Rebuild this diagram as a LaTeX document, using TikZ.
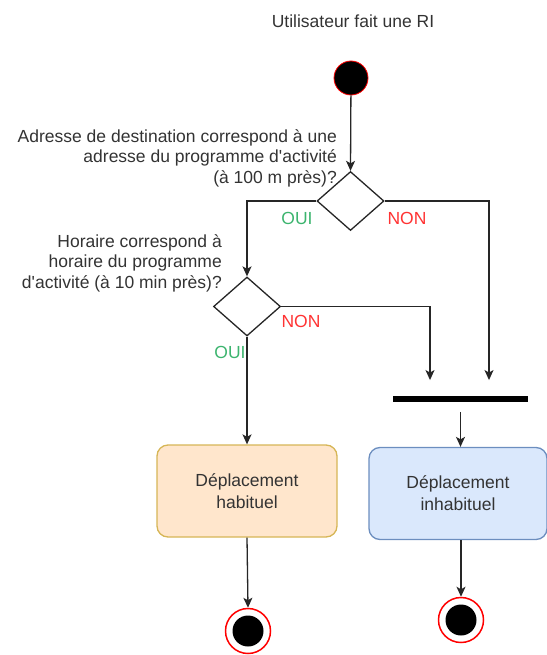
\documentclass[tikz,border=0pt]{standalone}
\usepackage{fontspec}
\setmainfont{Liberation Sans}
\usetikzlibrary{arrows.meta,shapes.geometric}

\definecolor{ouigreen}{RGB}{60,180,110}
\definecolor{nonred}{RGB}{255,51,51}
\definecolor{habfill}{HTML}{FFE6CC}
\definecolor{habdraw}{HTML}{D6B656}
\definecolor{inhfill}{HTML}{DAE8FC}
\definecolor{inhdraw}{HTML}{6C8EBF}

\begin{document}
\begin{tikzpicture}[x=1pt, y=-1pt, >={Stealth[length=10pt,width=9pt,inset=2.5pt]},
  font=\fontsize{17.5}{20.5}\selectfont]

% styles
\tikzset{
  flow/.style={->, line width=1.3pt, draw=black!85},
  choice/.style={diamond, draw=black!85, line width=1.3pt, fill=white,
    inner sep=0pt, minimum width=67pt, minimum height=59pt},
  question/.style={anchor=east, align=right, text=black!80, inner sep=0pt},
  activity/.style={rectangle, rounded corners=11pt, line width=1.3pt,
    minimum width=180pt, minimum height=92pt, align=center, text=black!80,
    font=\fontsize{17.5}{22}\selectfont},
  initial/.style={circle, fill=black, draw=red, line width=0.8pt, minimum size=34pt, inner sep=0pt},
  final/.style={circle, fill=white, draw=red, line width=1.5pt, minimum size=45pt, inner sep=0pt,
    path picture={\fill[black] (path picture bounding box.center) circle (15.5pt);}},
  joinbar/.style={rectangle, fill=black, inner sep=0pt, minimum width=135pt, minimum height=5.5pt},
}

\useasboundingbox (0,0) rectangle (546,655);

% title and start
\node[text=black!80] (title) at (353,21) {Utilisateur fait une RI};
\node[initial] (start) at (351,78) {};

% first decision
\node[choice] (q1) at (350.5,201) {};
\node[question] (q1txt) at (337,158) {Adresse de destination correspond à une\\adresse du programme d\textquotesingle activité\\(à 100 m près)?};

% second decision
\node[choice] (q2) at (247,306.5) {};
\node[question] (q2txt) at (222,263) {Horaire correspond à\\horaire du programme\\d\textquotesingle activité (à 10 min près)?};

% join bar
\node[joinbar] (bar) at (460.5,399) {};

% activities
\node[activity, fill=habfill, draw=habdraw] (habit) at (247,491) {Déplacement\\habituel};
\node[activity, fill=inhfill, draw=inhdraw, minimum width=178pt] (inhabit) at (458,493.5) {Déplacement\\inhabituel};

% end states
\node[final] (end1) at (248,631) {};
\node[final] (end2) at (461,620) {};

% connectors
\draw[flow] (start) -- (q1.north);
\draw[flow] (q1.west) -| (q2.north);
\draw[flow, shorten >=16pt] (q1.east) -| (bar.north -| 489,0);
\draw[flow, shorten >=16pt] (q2.east) -| (bar.north -| 430,0);
\draw[flow] (q2.south) -- (habit.north);
\draw[flow, shorten <=10pt] (bar.south) -- (bar.south |- inhabit.north);
\draw[flow] (habit.south) -- (end1.north);
\draw[flow] (inhabit.south -| end2.north) -- (end2.north);

% branch labels
\node[text=ouigreen] (oui1) at (297,218) {OUI};
\node[text=nonred] (non1) at (407,218) {NON};
\node[text=ouigreen] (oui2) at (230,352) {OUI};
\node[text=nonred] (non2) at (301,321) {NON};

\end{tikzpicture}
\end{document}
